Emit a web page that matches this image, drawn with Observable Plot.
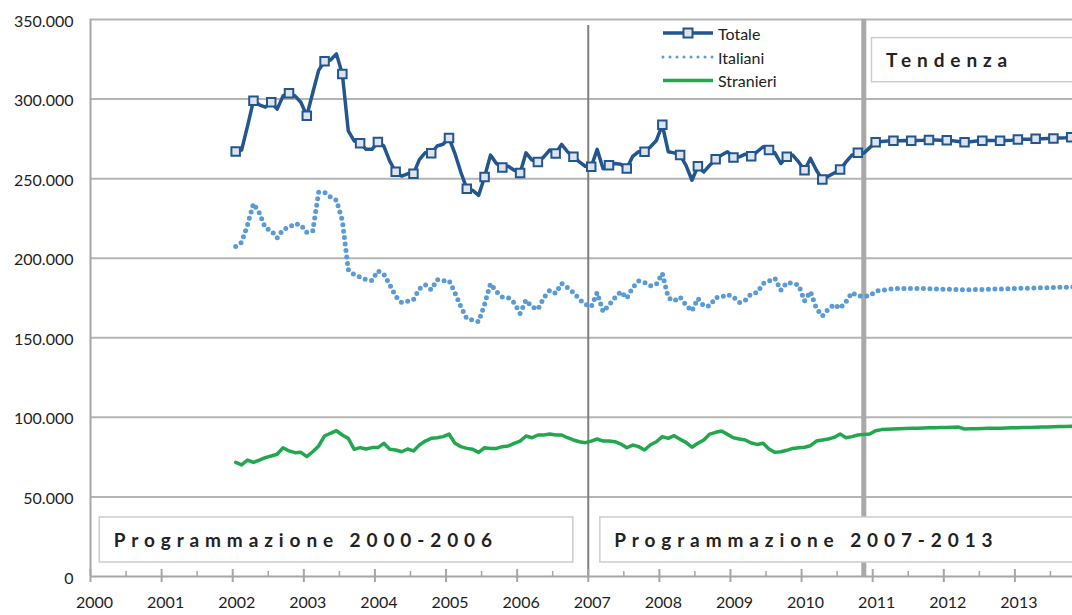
<!DOCTYPE html>
<html>
<head>
<meta charset="utf-8">
<script src="https://cdn.jsdelivr.net/npm/d3@7"></script>
<script src="https://cdn.jsdelivr.net/npm/@observablehq/plot@0.6"></script>
<style>
  html, body { margin: 0; padding: 0; background: #fff; overflow: hidden; }
  #wrap { position: relative; width: 1072px; height: 615px; }
  #legend { position: absolute; left: 0; top: 0; pointer-events: none; }
</style>
</head>
<body>
<div id="wrap"></div>
<script>
// ---- Data (thousands of units), monthly from Jan 2002 to Dec 2013 ----
const startYear = 2002;
const totale = [
  267, 268, 283, 299, 296.4, 295, 298, 293.7, 302, 303.6, 302, 298,
  289.5, 303.8, 318, 323.8, 324.6, 328.4, 315.8, 280, 273.7, 272.2, 268.4, 268.4,
  273, 270.5, 261, 254.3, 251.6, 253, 253, 262, 266.3, 265.9, 270.5, 271.6,
  275.5, 265.8, 254, 243.7, 242.6, 239.5, 251, 264.8, 259.5, 257, 257.8, 255.3,
  253.6, 266.2, 261.6, 260.5, 263.7, 268, 265.8, 271.5, 266.9, 263.7, 260.5, 257.8,
  257.4, 268.4, 256.3, 258.4, 259.5, 259, 256.3, 264, 266.9, 266.9, 270, 274,
  283.8, 266.9, 266.2, 264.8, 258.4, 249, 257.8, 254.2, 258.4, 262.2, 264.8, 266.9,
  263.3, 263.7, 265.4, 264.1, 266.9, 270, 268, 266.2, 259.5, 263.7, 264.8, 260.5,
  255.3, 262.7, 255.3, 249.4, 251.5, 253.6, 255.7, 260.5, 264.8, 266.2, 266, 269.5,
  272.8, 273.3, 273.6, 273.8, 273.8, 273.9, 273.8, 274, 274.1, 274.3, 274.3, 274.2,
  274.2, 273.8, 273.4, 272.8, 273.2, 273.6, 273.8, 274, 274, 273.8, 274, 274.2,
  274.6, 274.7, 274.8, 275, 275.1, 275.2, 275.3, 275.5, 275.7, 276, 276, 276
];
const italiani = [
  207.4, 210, 221, 234.3, 228.4, 219, 217.3, 212.7, 218, 219.4, 221.7, 221,
  216.2, 217, 241.4, 241.4, 238.5, 236.4, 223.6, 192.8, 189.6, 188.2, 186.5, 186,
  192.1, 190, 183.3, 176, 172.2, 172.9, 173.9, 180.8, 183.3, 180.2, 186.5, 185.8,
  186, 178.4, 169.5, 162, 161.1, 160.1, 171, 184, 179, 175.6, 175.2, 172,
  165.3, 173.7, 169.3, 167.9, 175.2, 179.8, 177.9, 184.2, 181.5, 178.4, 174.2, 171,
  169.5, 178.4, 166.4, 170.6, 175.2, 179, 174.8, 181.5, 185.7, 184.7, 182.6, 183.6,
  190.5, 175.2, 173.1, 175.6, 170.6, 166.8, 174.8, 170, 170, 175.2, 175.6, 177.3,
  175.6, 172.1, 173.5, 177.7, 178.4, 184, 185.7, 187.4, 179.8, 184.7, 184.2, 183.2,
  173.1, 179, 168.5, 163.7, 167.9, 171, 168.5, 172.7, 178.4, 176.3, 176.3, 176.3,
  179.3, 179.8, 180.3, 180.8, 181, 181, 181, 181, 181, 180.8, 180.7, 180.6,
  180.5, 180.4, 180.3, 180.2, 180.2, 180.3, 180.4, 180.5, 180.6, 180.7, 180.8, 180.9,
  181, 181.1, 181.2, 181.3, 181.4, 181.5, 181.6, 181.7, 181.8, 181.9, 182, 182
];
const stranieri = [
  71.7, 70.1, 73.2, 71.7, 73.2, 74.7, 75.7, 76.8, 80.9, 78.9, 77.8, 78,
  75.3, 78.4, 82, 88.3, 90, 91.6, 88.9, 86.8, 79.9, 81, 80.1, 81,
  81, 83.7, 79.9, 79.5, 78.4, 80.1, 78.9, 82.6, 85.1, 86.8, 87.2, 87.9,
  89.5, 83.7, 81.6, 80.5, 79.9, 78, 80.9, 80.5, 80.5, 81.6, 82, 83.7,
  85.1, 88.3, 87.2, 88.9, 88.9, 89.5, 88.9, 88.9, 87.2, 85.8, 84.7, 84.1,
  85.1, 86.4, 85.1, 85.1, 84.7, 83.2, 80.9, 82.6, 81.6, 79.5, 82.8, 84.7,
  87.9, 86.8, 88.5, 86.2, 84.3, 81.2, 83.7, 85.8, 89.5, 90.6, 91.4, 89.3,
  87.2, 86.4, 85.8, 83.9, 83, 83.7, 80.1, 78, 78.4, 79.3, 80.5, 80.9,
  81.2, 82.2, 85.1, 85.8, 86.4, 87.4, 89.5, 87.2, 87.9, 88.9, 89.3, 89.5,
  91.6, 92.3, 92.5, 92.7, 92.9, 93, 93.1, 93.2, 93.3, 93.4, 93.5, 93.6,
  93.7, 93.8, 93.9, 92.7, 92.9, 92.9, 93, 93.1, 93.1, 93.2, 93.3, 93.4,
  93.5, 93.6, 93.7, 93.8, 93.9, 94, 94.1, 94.2, 94.3, 94.4, 94.5, 94.5
];
const yearTicks = [2000, 2001, 2002, 2003, 2004, 2005, 2006, 2007, 2008, 2009, 2010, 2011, 2012, 2013];
const halfYearTicks = [2000.5, 2001.5, 2002.5, 2003.5, 2004.5, 2005.5, 2006.5, 2007.5, 2008.5, 2009.5, 2010.5, 2011.5, 2012.5, 2013.5];
const yTicks = [0, 50000, 100000, 150000, 200000, 250000, 300000, 350000];
const periodLines = [2007];
const forecastStart = [2010.875];
const boxLabels = ["Programmazione 2000-2006", "Programmazione 2007-2013", "Tendenza"];
const boxes = [
  {label: boxLabels[0], x1: 2000.13, x2: 2006.79, y1: 8800, y2: 37100},
  {label: boxLabels[1], x1: 2007.17, x2: 2014.5, y1: 8800, y2: 37100},
  {label: boxLabels[2], x1: 2010.99, x2: 2014.5, y1: 310600, y2: 338300}
];

// ---- Build tidy rows ----
const toT = i => startYear + (i + 0.5) / 12;
const rowsTot = totale.map((v, i) => ({t: toT(i), v: v * 1000, i}));
const rowsIta = italiani.map((v, i) => ({t: toT(i), v: v * 1000}));
const rowsStr = stranieri.map((v, i) => ({t: toT(i), v: v * 1000}));
const totMarkers = rowsTot.filter(d => d.i % 3 === 0);

const itFmt = d3.formatLocale({decimal: ",", thousands: ".", grouping: [3], currency: ["€", ""]}).format(",d");

const cTot = "#23568e", cIta = "#5b9bd5", cStr = "#22a64e";
const grid = "#b4b4b4", axisC = "#a6a6a6";

const plot = Plot.plot({
  width: 1072, height: 615,
  marginLeft: 90, marginRight: 0, marginTop: 19, marginBottom: 39,
  x: {domain: [2000, 2013.81], axis: null},
  y: {domain: [0, 350000], axis: null},
  style: {fontFamily: "Lato, 'Open Sans', sans-serif", fontSize: "16px", color: "#1e1e1e", background: "white"},
  marks: [
    Plot.ruleY(yTicks.filter(v => v > 0), {stroke: grid, strokeWidth: 2}),
    Plot.ruleX(forecastStart, {y1: 0, y2: 350000, stroke: "#a9a9a9", strokeWidth: 5}),
    Plot.ruleX(periodLines, {y1: 0, y2: 350000, insetBottom: -6, stroke: "#808080", strokeWidth: 2}),
    Plot.rect(boxes, {x1: "x1", x2: "x2", y1: "y1", y2: "y2", fill: "white", stroke: "#cdcdcd", strokeWidth: 1.5, clip: true}),
    Plot.text(boxes, {x: "x1", y: d => (d.y1 + d.y2) / 2, text: "label", textAnchor: "start", dx: 14, dy: 1,
      fontSize: 19, fontWeight: "bold", fill: "#222"}),
    // axes lines and ticks
    Plot.ruleY([0], {stroke: axisC, strokeWidth: 2}),
    Plot.ruleX([2000], {y1: 0, y2: 350000, stroke: axisC, strokeWidth: 2}),
    Plot.ruleX(yearTicks, {y1: 0, y2: 0, insetTop: -7, insetBottom: -6, stroke: axisC, strokeWidth: 2}),
    Plot.ruleX(halfYearTicks, {y1: 0, y2: 0, insetTop: -5, stroke: axisC, strokeWidth: 1.5}),
    Plot.axisY(yTicks, {tickSize: 0, tickPadding: 17, tickFormat: itFmt, fontSize: 16, dy: 2}),
    Plot.axisX(yearTicks, {tickSize: 0, tickPadding: 20, tickFormat: d => String(d), fontSize: 16, dx: 4}),
    // data
    Plot.line(rowsStr, {x: "t", y: "v", stroke: cStr, strokeWidth: 3.5, clip: true}),
    Plot.line(rowsIta, {x: "t", y: "v", stroke: cIta, strokeWidth: 5, strokeDasharray: "0,6.5", strokeLinecap: "round", clip: true}),
    Plot.line(rowsTot, {x: "t", y: "v", stroke: cTot, strokeWidth: 3.5, clip: true}),
    Plot.dot(totMarkers, {x: "t", y: "v", symbol: "square", r: 4.8, fill: "#dde4ed", stroke: cTot, strokeWidth: 2, clip: true})
  ]
});

d3.select(plot).selectAll("text")
  .filter(function() { return boxLabels.includes(this.textContent); })
  .style("letter-spacing", "5.9px");

const wrap = document.getElementById("wrap");
wrap.appendChild(plot);

// ---- Legend overlay ----
const legendItems = [
  {name: "Totale", color: cTot, width: 3.5, dash: null, marker: true, y: 33},
  {name: "Italiani", color: cIta, width: 3, dash: "0,7", marker: false, y: 57},
  {name: "Stranieri", color: cStr, width: 3.5, dash: null, marker: false, y: 80.5}
];
const lg = d3.select(wrap).append("svg").attr("id", "legend").attr("width", 1072).attr("height", 615);
const it = lg.selectAll("g").data(legendItems).join("g").attr("transform", d => `translate(663,${d.y})`);
it.append("line").attr("x1", 0).attr("x2", 50).attr("stroke", d => d.color).attr("stroke-width", d => d.width)
  .attr("stroke-dasharray", d => d.dash).attr("stroke-linecap", d => d.dash ? "round" : "butt");
it.filter(d => d.marker).append("rect").attr("x", 20.5).attr("y", -4.5).attr("width", 9).attr("height", 9)
  .attr("fill", "#dde4ed").attr("stroke", cTot).attr("stroke-width", 2);
it.append("text").attr("x", 55).attr("dy", "0.35em").attr("y", 1).text(d => d.name)
  .attr("font-family", "Lato, 'Open Sans', sans-serif").attr("font-size", 16).attr("fill", "#222");
</script>
</body>
</html>
